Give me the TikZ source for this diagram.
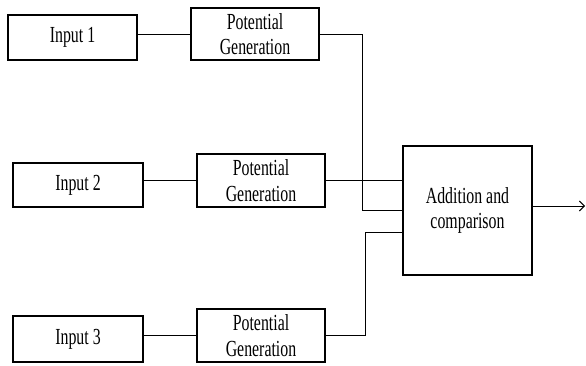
\documentclass[tikz,border=0pt]{standalone}
\usepackage{fontspec}
\setmainfont{Liberation Serif}[FakeStretch=0.69]
\usetikzlibrary{arrows.meta}
\begin{document}
\begin{tikzpicture}[x=1bp,y=-1bp,
  blk/.style={draw,line width=2.2bp,rectangle,inner sep=0pt,align=center,
    font=\fontsize{23bp}{25.5bp}\selectfont},
  wire/.style={line width=0.9bp}]
\useasboundingbox (0,0) rectangle (586,365);
\node[blk,minimum width=129bp,minimum height=45bp] (in1) at (72.5,37.5) {Input 1};
\node[blk,minimum width=128bp,minimum height=52bp] (pg1) at (255,34) {Potential\\Generation};
\node[blk,minimum width=130bp,minimum height=44bp] (in2) at (78,185) {Input 2};
\node[blk,minimum width=128bp,minimum height=53bp] (pg2) at (261,180.5) {Potential\\Generation};
\node[blk,minimum width=130bp,minimum height=46bp] (in3) at (78,339) {Input 3};
\node[blk,minimum width=128bp,minimum height=53bp] (pg3) at (261,335.5) {Potential\\Generation};
\node[blk,minimum width=129bp,minimum height=129bp] (add) at (467.5,210.5) {Addition and\\comparison};
\coordinate (out) at (585,206);
\draw[wire] (pg1.west -| in1.east) -- (pg1.west);
\draw[wire] (pg2.west -| in2.east) -- (pg2.west);
\draw[wire] (pg3.west -| in3.east) -- (pg3.west);
\draw[wire] (pg1.east) -- ++(42,0) |- (add.west);
\draw[wire] (pg2.east) -- (pg2.east -| add.west);
\draw[wire] (pg3.east) -- ++(39,0) |- ([yshift=-21.5bp]add.west);
\draw[wire,-{Straight Barb[length=5bp,width=10bp]}] (out -| add.east) -- (out);
\end{tikzpicture}
\end{document}
